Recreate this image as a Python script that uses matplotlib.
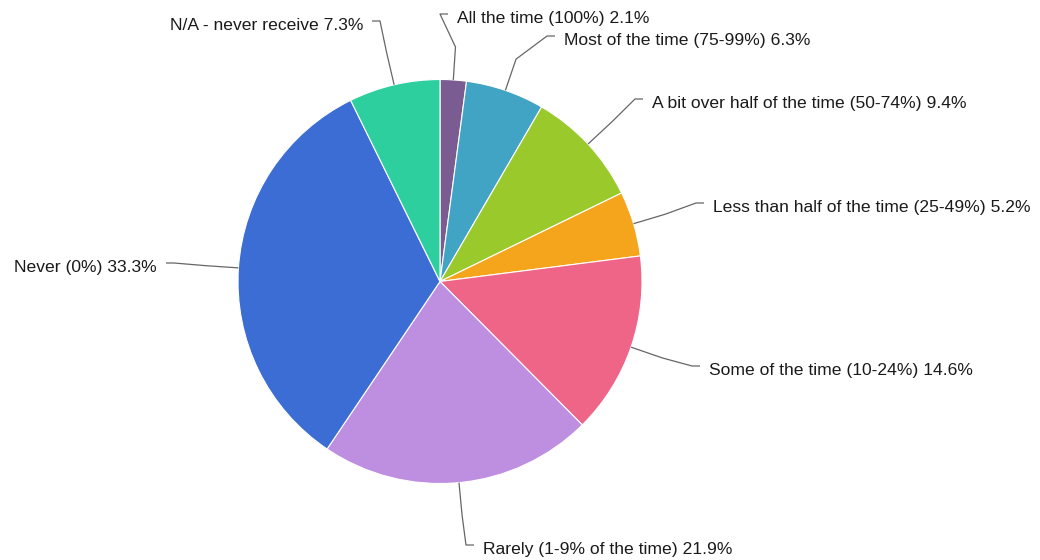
import numpy as np
import matplotlib
matplotlib.use("Agg")
import matplotlib.pyplot as plt

# --- datos del gráfico ---
categorias = [
    "All the time (100%)",
    "Most of the time (75-99%)",
    "A bit over half of the time (50-74%)",
    "Less than half of the time (25-49%)",
    "Some of the time (10-24%)",
    "Rarely (1-9% of the time)",
    "Never (0%)",
    "N/A - never receive",
]
porcentajes = [2.1, 6.3, 9.4, 5.2, 14.6, 21.9, 33.3, 7.3]
colores = ["#7b5c92", "#42a4c4", "#99c92a", "#f5a51b",
           "#ef6588", "#be8fe0", "#3b6dd5", "#2ecf9f"]

# posición de las etiquetas (pixeles: x del texto, línea base, lado)
pos_etiquetas = [(457, 23, "left"), (564, 45, "left"), (652, 108, "left"),
                 (713, 212, "left"), (709, 375, "left"), (483, 554, "left"),
                 (157, 272, "right"), (363, 30, "right")]

W, H = 1040, 560
CX, CY, R = 440, 281.5, 202
Y = lambda py: H - py   # pixeles (origen arriba) -> coordenadas de datos

fig = plt.figure(figsize=(W / 100, H / 100), dpi=100)
ax = fig.add_axes([0, 0, 1, 1])
cuñas, _ = ax.pie(porcentajes, colors=colores, startangle=90, counterclock=False,
                  center=(CX, Y(CY)), radius=R,
                  wedgeprops=dict(edgecolor="white", linewidth=0.8))
ax.set_xlim(0, W)
ax.set_ylim(0, H)
ax.set_aspect("equal")
ax.axis("off")

for w, cat, val, (tx, tb, lado) in zip(cuñas, categorias, porcentajes, pos_etiquetas):
    ang = np.deg2rad((w.theta1 + w.theta2) / 2)
    borde = (CX + R * np.cos(ang), Y(CY) + R * np.sin(ang))
    codo = (CX + (R + 33) * np.cos(ang), Y(CY) + (R + 33) * np.sin(ang))
    s = 1 if lado == "right" else -1
    ancla = (tx + s * 17, Y(tb - 9))
    fin = (tx + s * 9, Y(tb - 9))
    xs = [borde[0], codo[0], ancla[0], fin[0]]
    ys = [borde[1], codo[1], ancla[1], fin[1]]
    ax.plot(xs, ys, color="#666666", lw=0.9, solid_capstyle="butt")
    ax.text(tx, Y(tb), f"{cat} {val}%", ha=lado, va="baseline",
            fontsize=12.6, family="Liberation Sans", color="#1a1a1a")

fig.savefig("out.png", dpi=100)
